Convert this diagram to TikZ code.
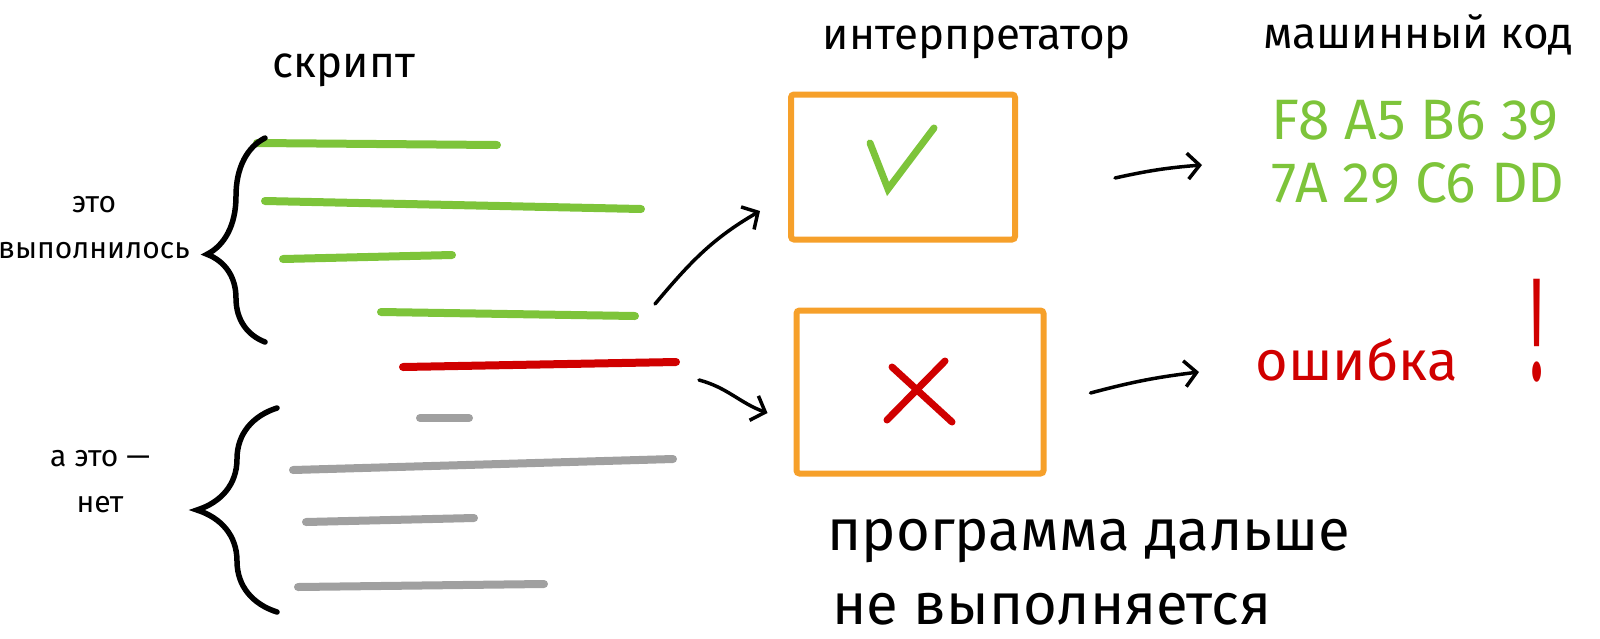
\documentclass[tikz,border=0pt]{standalone}
\usepackage{fontspec}
\setmainfont{Fira Sans}
\usetikzlibrary{decorations.pathreplacing, arrows.meta}

\definecolor{okgreen}{RGB}{125,196,58}
\definecolor{errred}{RGB}{208,0,0}
\definecolor{boxorange}{RGB}{246,160,42}
\definecolor{skipgray}{RGB}{160,160,160}

\tikzset{
  codeline/.style = {line width=8pt, line cap=round},
  okline/.style   = {codeline, okgreen},
  errline/.style  = {codeline, errred},
  skipline/.style = {codeline, skipgray},
  interp/.style   = {shape=rectangle, draw=boxorange, line width=6pt,
                     rounded corners=3pt},
  heading/.style  = {anchor=base, font=\fontsize{44}{50}\selectfont},
  note/.style     = {align=center, font=\fontsize{30}{46}\selectfont},
  remark/.style   = {anchor=base west, font=\fontsize{58}{70}\selectfont},
  bracket/.style  = {decorate, line width=5.5pt, line cap=round},
  flow/.style     = {draw, line width=3.5pt, line cap=round,
                     -{Straight Barb[length=12pt, width=26pt]}},
  verdict/.style  = {line width=7pt, line cap=round}
}

\begin{document}
\begin{tikzpicture}[x=1pt, y=-1pt]
\useasboundingbox (0,0) rectangle (1600,638);

% headings
\node[heading] (script) at (344,77) {скрипт};
\node[heading] (interpreter) at (977,49) {интерпретатор};
\node[heading] (machine) at (1418,48) {машинный код};

% lines of the script
\draw[okline] (257,143) -- (497,145);
\draw[okline] (265,201) -- (641,209);
\draw[okline] (283,259) -- (452,255);
\draw[okline] (381,312) -- (635,316) coordinate (lastok);
\draw[errline] (403,367) -- (676,362) coordinate (failed);
\draw[skipline] (420,418) -- (469,418);
\draw[skipline] (293,470) -- (673,459);
\draw[skipline] (306,522) -- (474,518);
\draw[skipline] (298,587) -- (544,584);

% braces
\draw[bracket, decoration={brace, amplitude=58pt, aspect=0.43}]
  (265,342) -- (265,138);
\draw[bracket, decoration={brace, amplitude=80pt}]
  (277,612) -- (277,408);
\node[note] (done) at (94,228) {это\\выполнилось};
\node[note] (notdone) at (100,482) {а это —\\нет};

% interpreter
\node[interp, minimum width=224pt, minimum height=145pt] (okbox) at (903,167) {};
\node[interp, minimum width=247pt, minimum height=163pt] (errbox) at (920,392) {};
\draw[verdict, okgreen] ([shift={(-33,-24)}]okbox.center)
  -- ([shift={(-15,22)}]okbox.center) -- ([shift={(31,-39)}]okbox.center);
\draw[verdict, errred] ([shift={(-28,-25)}]errbox.center)
  -- ([shift={(32,30)}]errbox.center);
\draw[verdict, errred] ([shift={(-33,28)}]errbox.center)
  -- ([shift={(25,-31)}]errbox.center);

% results
\node[anchor=west, align=left, text=okgreen,
      font=\fontsize{57}{63}\selectfont] (hexcode) at (1268,152)
  {F8 A5 B6 39\\7A 29 C6 DD};
\node[anchor=base west, text=errred, font=\fontsize{56}{60}\selectfont]
  (errtext) at (1252,380)
  {ошибка\hspace{72pt}{\fontsize{140}{140}\selectfont\scalebox{0.45}[1.05]{!}}};
\node[remark] (stop1) at (824,550) {программа дальше};
\node[remark] (stop2) at (829,624) {не выполняется};

% arrows
\draw[flow] ([shift={(20,-12)}]lastok) to[out=50, in=-150]
  ([shift={(-28,44)}]okbox.west);
\draw[flow] ([shift={(23,18)}]failed) to[out=-15, in=160]
  ([shift={(-26,21)}]errbox.west);
\draw[flow] ([shift={(97,11)}]okbox.east) to[bend left=4]
  ([shift={(-66,13)}]hexcode.west);
\draw[flow] ([shift={(44,1)}]errbox.east) to[bend left=4]
  (1199,372);
\end{tikzpicture}
\end{document}
